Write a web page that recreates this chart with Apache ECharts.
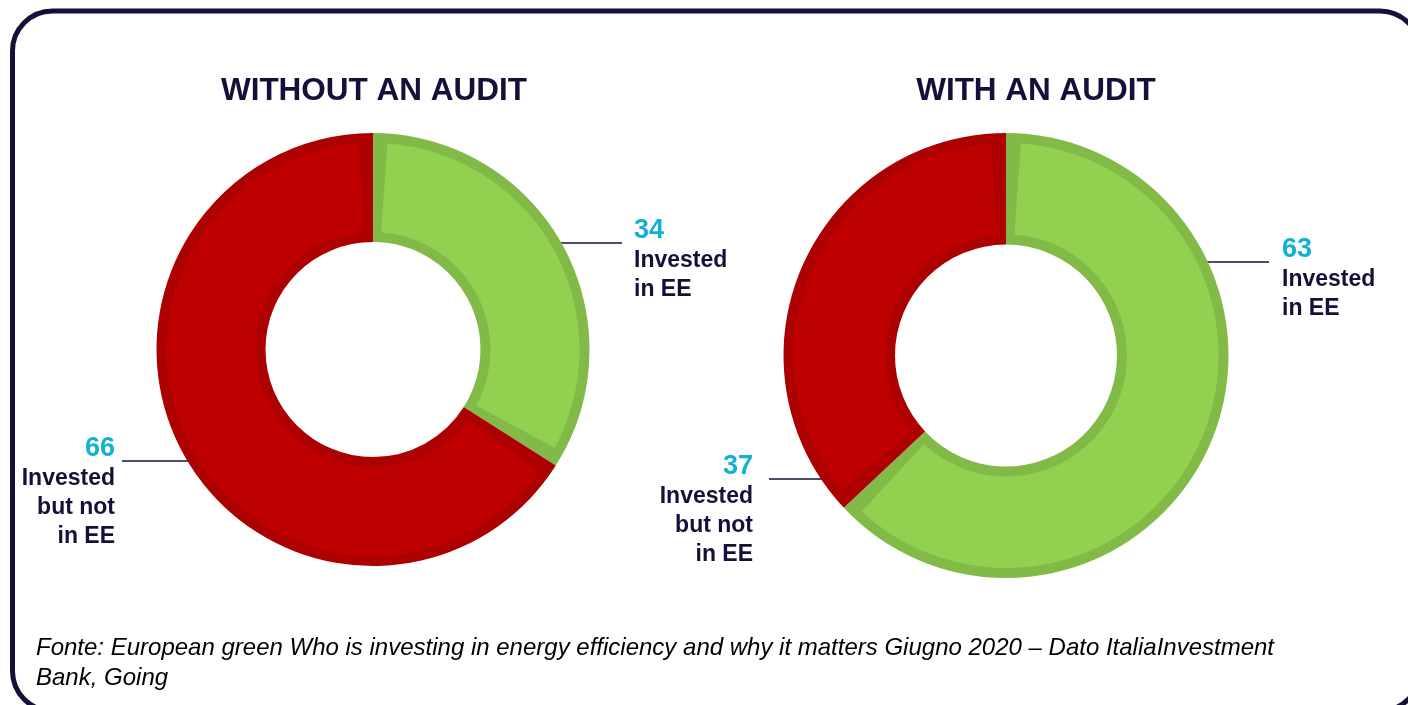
<!DOCTYPE html>
<html>
<head>
<meta charset="utf-8">
<title>Audit and energy efficiency</title>
<script src="https://cdn.jsdelivr.net/npm/echarts@6/dist/echarts.min.js"></script>
<style>
  html, body { margin: 0; padding: 0; background: #ffffff; }
  #mainChart { width: 1408px; height: 705px; }
</style>
</head>
<body>
<div id="mainChart"></div>
<script>
var navy = '#15103a';
var cyan = '#12afd6';
var font = "'Liberation Sans', Arial, sans-serif";

// data
var chartTitles = ['WITHOUT AN AUDIT', 'WITH AN AUDIT'];
var categories = ['Invested in EE', 'Invested but not in EE'];
var categoryLines = [['Invested', 'in EE'], ['Invested', 'but not', 'in EE']];
var withoutAudit = [34, 66];
var withAudit = [63, 37];
var sourceNote = 'Fonte: European green Who is investing in energy efficiency and why it matters Giugno 2020 \u2013 Dato ItaliaInvestment\nBank, Going';

var fillColors = ['#92d050', '#bf0000'];
var edgeColors = ['#82ba48', '#ad0000'];

// layout
var pieCenters = [[373, 349.5], [1006, 355.5]];
var outerR = [216.5, 222.5];
var innerR = [107.5, 111];
var edgeW = 10;
var labelSpots = [
  [{x: 634, y: 216, lineY: 243, lineEnd: 622, align: 'left'},
   {x: 115, y: 434, lineY: 461, lineEnd: 122, align: 'right'}],
  [{x: 1282, y: 235, lineY: 262, lineEnd: 1269, align: 'left'},
   {x: 753, y: 452, lineY: 479, lineEnd: 769, align: 'right'}]
];

function makeData(values, si, colors) {
  return values.map(function (v, i) {
    return {
      value: v,
      name: categories[i],
      itemStyle: { color: colors[i] },
      label: { align: labelSpots[si][i].align }
    };
  });
}

// back ring: the darker edge colour, carries the labels
function edgeSeries(values, si) {
  return {
    type: 'pie',
    name: chartTitles[si],
    center: pieCenters[si],
    radius: [innerR[si], outerR[si]],
    startAngle: 90,
    clockwise: true,
    avoidLabelOverlap: false,
    silent: true,
    emphasis: { disabled: true },
    itemStyle: { borderWidth: 0 },
    label: {
      show: true,
      position: 'outside',
      formatter: function (p) {
        return '{v|' + p.value + '}\n{t|' + categoryLines[p.dataIndex].join('}\n{t|') + '}';
      },
      rich: {
        v: { fontFamily: font, fontWeight: 'bold', fontSize: 27, color: cyan, lineHeight: 30 },
        t: { fontFamily: font, fontWeight: 'bold', fontSize: 23, color: navy, lineHeight: 29 }
      }
    },
    labelLine: { show: true, length: 0, length2: 0, lineStyle: { color: navy, width: 1.5 } },
    labelLayout: function (p) {
      var k = p.seriesIndex / 2;
      var s = labelSpots[k][p.dataIndex];
      var c = pieCenters[k];
      var r = outerR[k];
      var dy = s.lineY - c[1];
      var dx = Math.sqrt(r * r - dy * dy);
      var startX = s.align === 'left' ? c[0] + dx - 2 : c[0] - dx + 2;
      return {
        x: s.x,
        y: s.y,
        align: s.align,
        verticalAlign: 'top',
        labelLinePoints: [[startX, s.lineY], [s.lineEnd, s.lineY], [s.lineEnd, s.lineY]]
      };
    },
    data: makeData(values, si, edgeColors)
  };
}

// front ring: the lighter fill, inset from the edge
function fillSeries(values, si) {
  return {
    type: 'pie',
    center: pieCenters[si],
    radius: [innerR[si] + edgeW, outerR[si] - edgeW],
    startAngle: 90,
    clockwise: true,
    padAngle: 8,
    silent: true,
    emphasis: { disabled: true },
    itemStyle: { borderWidth: 0 },
    label: { show: false },
    labelLine: { show: false },
    data: makeData(values, si, fillColors)
  };
}

var myChart = echarts.init(document.getElementById('mainChart'));

var option = {
  backgroundColor: '#ffffff',
  animation: false,
  title: [
    {
      text: chartTitles[0], left: 369, top: 70, textAlign: 'center',
      textStyle: { fontFamily: font, fontWeight: 'bold', fontSize: 31.5, color: navy }
    },
    {
      text: chartTitles[1], left: 1031, top: 70, textAlign: 'center',
      textStyle: { fontFamily: font, fontWeight: 'bold', fontSize: 31.5, color: navy }
    }
  ],
  graphic: [
    {
      type: 'rect',
      shape: { x: 12.5, y: 11, width: 1407.5, height: 700, r: 40 },
      style: { fill: 'none', stroke: navy, lineWidth: 5 },
      silent: true
    },
    {
      type: 'text',
      left: 36, top: 633,
      style: {
        text: sourceNote,
        fontFamily: font, fontStyle: 'italic', fontSize: 24, lineHeight: 30,
        fill: '#000000'
      }
    }
  ],
  series: [
    edgeSeries(withoutAudit, 0), fillSeries(withoutAudit, 0),
    edgeSeries(withAudit, 1), fillSeries(withAudit, 1)
  ]
};

myChart.setOption(option);
</script>
</body>
</html>
